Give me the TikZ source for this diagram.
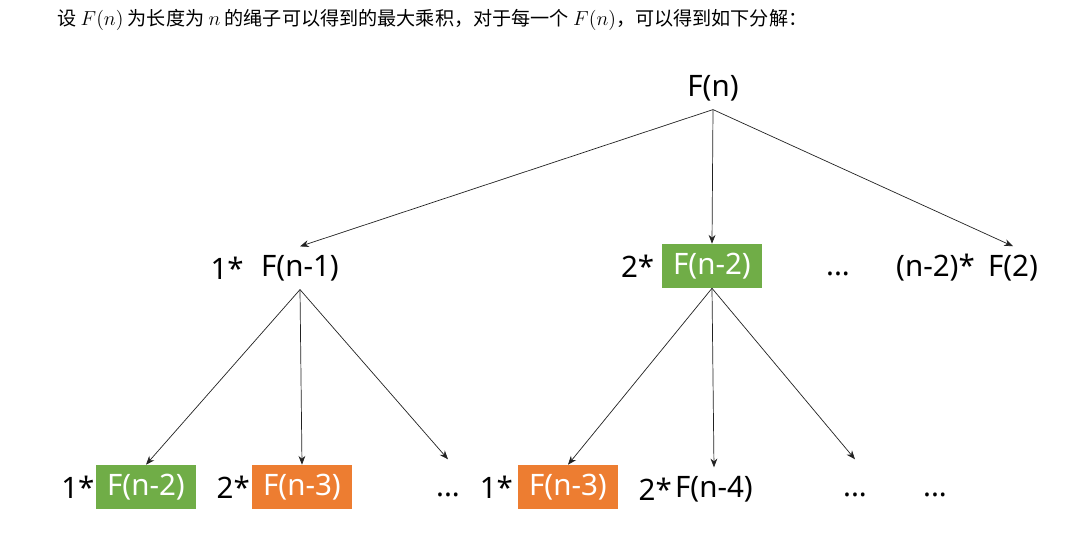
\documentclass[tikz,border=0pt]{standalone}
\usepackage{fontspec}
\setmainfont{Noto Sans}
\newfontfamily\cjk{Noto Sans CJK SC}
\usetikzlibrary{arrows.meta,positioning}
\definecolor{cellgreen}{HTML}{70AD47}
\definecolor{cellorange}{HTML}{ED7D31}
\definecolor{linkgray}{HTML}{222222}

\begin{document}
\begin{tikzpicture}[
  x=0.025cm, y=-0.025cm,
  term/.style={font=\fontsize{21}{25}\selectfont, inner sep=6pt},
  coef/.style={font=\fontsize{21}{25}\selectfont, inner sep=1pt},
  cell/.style={term, text=white, minimum width=2.475cm, minimum height=1.1cm, inner sep=0pt},
  dots/.style={term, inner sep=1pt, text height=0.9cm, anchor=base},
  link/.style={-{Stealth[length=2.2mm,width=1.7mm]}, line width=0.5pt, draw=linkgray}
]
\useasboundingbox (0,0) rectangle (1088,537);

\node[anchor=west, font=\fontsize{13.6}{16}\selectfont\cjk, inner sep=0pt] (title) at (57,20)
  {设 $F(n)$ 为长度为 $n$ 的绳子可以得到的最大乘积，对于每一个 $F(n)$，可以得到如下分解：};

% root
\node[term] (root) at (713,88) {F(n)};

% second level
\node[term] (a) at (300,268) {F(n-1)};
\node[coef, left=5pt of a] (ak) {1*};
\node[cell, fill=cellgreen] (b) at (712,266) {F(n-2)};
\node[coef, left=4.5pt of b] (bk) {2*};
\node[dots] (c) at (838,276) {...};
\node[term] (d) at (1013,268) {F(2)};
\node[coef, left=2pt of d] (dk) {(n-2)*};

\draw[link] (root.south) -- (a.north);
\draw[link] (root.south) -- (b.north);
\draw[link] (root.south) -- (d.north);

% third level
\node[cell, fill=cellgreen] (aa) at (146,487) {F(n-2)};
\node[coef, left=0pt of aa] (aak) {1*};
\node[cell, fill=cellorange] (ab) at (302,487) {F(n-3)};
\node[coef, left=0.5pt of ab] (abk) {2*};
\node[dots] (ac) at (448,497) {...};

\node[cell, fill=cellorange] (ba) at (568,487) {F(n-3)};
\node[coef, left=2.5pt of ba] (bak) {1*};
\node[term] (bb) at (714,489) {F(n-4)};
\node[coef, left=-5pt of bb] (bbk) {2*};
\node[dots] (bc) at (855,497) {...};
\node[dots] (bd) at (935,497) {...};

\draw[link] (a.south) -- (aa.north);
\draw[link] (a.south) -- (ab.north);
\draw[link] (a.south) -- (ac.north);
\draw[link] (b.south) -- (ba.north);
\draw[link] (b.south) -- (bb.north);
\draw[link] (b.south) -- (bc.north);
\end{tikzpicture}
\end{document}
